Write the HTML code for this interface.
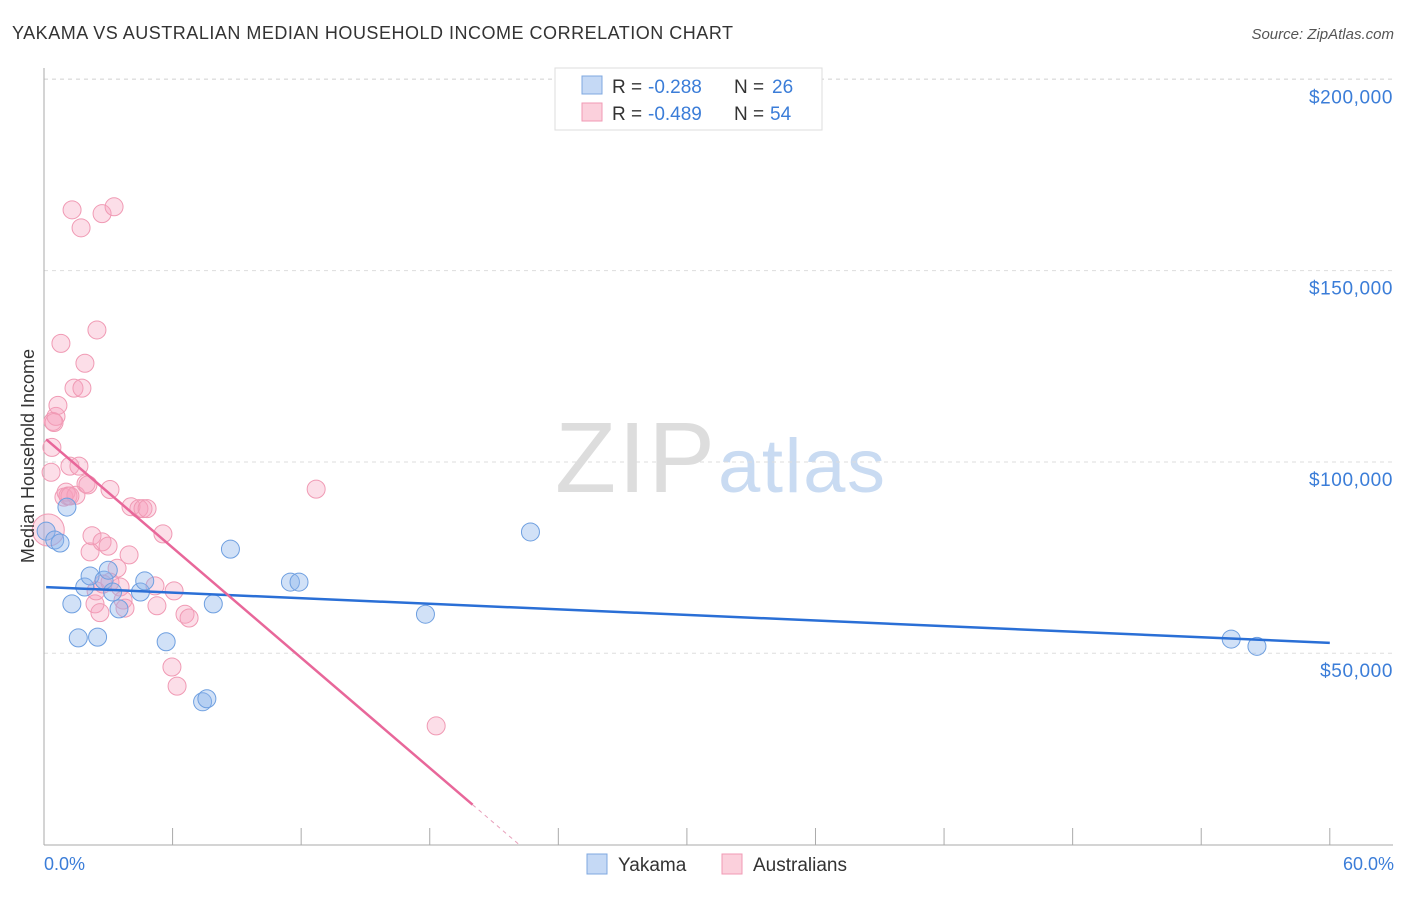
<!DOCTYPE html>
<html><head><meta charset="utf-8"><style>
body{margin:0;background:#fff;font-family:"Liberation Sans",sans-serif}
svg text{font-family:"Liberation Sans",sans-serif}
</style></head><body>
<svg id="chart" width="1406" height="892" xmlns="http://www.w3.org/2000/svg">
<text x="12" y="39" font-size="18" fill="#333" textLength="721">YAKAMA VS AUSTRALIAN MEDIAN HOUSEHOLD INCOME CORRELATION CHART</text>
<text x="1394" y="39" font-size="15" fill="#555" font-style="italic" text-anchor="end">Source: ZipAtlas.com</text>
<text x="555" y="492" font-size="100" fill="#ddd" textLength="160" font-family="Liberation Serif">ZIP</text>
<text x="718" y="492" font-size="76" fill="#c9dbf2" textLength="167">atlas</text>
<g id="grid"></g><g id="axes"></g><g id="pts"></g><g id="lines"></g>
<text transform="translate(34,456) rotate(-90)" font-size="18" fill="#333" text-anchor="middle">Median Household Income</text>
<text x="44" y="870" font-size="18" fill="#3b7dd8">0.0%</text>
<text x="1394" y="870" font-size="18" fill="#3b7dd8" text-anchor="end">60.0%</text>
<g>
<rect x="555" y="68" width="267" height="62" fill="#fff" stroke="#ddd"/>
<rect x="582" y="76" width="20" height="18" fill="#c5d9f5" stroke="#7fa8e0"/>
<rect x="582" y="103" width="20" height="18" fill="#fbd0dc" stroke="#f09ab4"/>
<text y="93" font-size="19" fill="#333"><tspan x="612">R =</tspan><tspan x="648" fill="#3b7dd8">-0.288</tspan><tspan x="734">N =</tspan><tspan x="772" fill="#3b7dd8">26</tspan></text>
<text y="120" font-size="19" fill="#333"><tspan x="612">R =</tspan><tspan x="648" fill="#3b7dd8">-0.489</tspan><tspan x="734">N =</tspan><tspan x="770" fill="#3b7dd8">54</tspan></text>
</g>
<g>
<rect x="587" y="854" width="20" height="20" fill="#c5d9f5" stroke="#7fa8e0"/>
<text x="618" y="871" font-size="19" fill="#333">Yakama</text>
<rect x="722" y="854" width="20" height="20" fill="#fbd0dc" stroke="#f09ab4"/>
<text x="753" y="871" font-size="19" fill="#333">Australians</text>
</g>
</svg>
<script>
const yTicks=[50000,100000,150000,200000];
const yTickLabels=["$50,000","$100,000","$150,000","$200,000"];
const blueX=[0.1,0.5,0.75,1.07,1.3,1.6,1.9,2.15,2.5,2.8,3.0,3.2,3.5,4.5,4.7,5.7,7.4,7.6,7.9,8.7,11.5,11.9,17.8,22.7,55.4,56.6];
const blueY=[81.9,79.6,78.8,88.2,62.9,54.0,67.3,70.2,54.2,69.1,71.7,66.0,61.6,66.0,68.9,53.0,37.3,38.1,62.9,77.2,68.6,68.6,60.2,81.7,53.7,51.8];
const pinkX=[0.2,0.33,0.37,0.42,0.56,0.65,0.79,0.93,1.03,1.12,1.21,1.31,1.4,1.49,1.63,1.73,1.77,1.91,1.96,2.05,2.15,2.24,2.38,2.43,2.61,2.71,2.71,2.75,2.99,3.08,3.27,3.41,3.55,3.69,3.78,3.97,4.06,4.43,4.62,4.81,5.18,5.27,5.55,6.07,6.58,6.77,5.97,6.21,12.7,18.3,2.47,0.47,1.21,3.08];
const pinkY=[82.2,97.3,103.8,110.6,111.9,114.8,131.0,90.8,92.1,91.1,98.9,165.9,119.3,91.3,98.9,161.2,119.3,125.8,94.3,94.0,76.5,80.7,62.9,66.3,60.6,164.9,79.1,68.1,78.0,92.8,166.7,72.2,67.3,63.9,61.8,75.7,88.3,87.8,87.8,87.8,67.6,62.4,81.2,66.3,60.2,59.2,46.4,41.4,92.9,31.0,134.5,110.3,91.1,68.6];
const blueLine=[67.3,-0.243];
const pinkLine=[106.4,-4.8];
const X=v=>44+v*21.43, Y=v=>844.5-v/261.4;
const NS="http://www.w3.org/2000/svg";
function mk(p,t,a){const e=document.createElementNS(NS,t);for(const k in a)e.setAttribute(k,a[k]);p.appendChild(e);return e;}
const grid=document.getElementById('grid'),axes=document.getElementById('axes');
yTicks.forEach((t,i)=>{
 const g=mk(grid,'line',{x1:44,x2:1393,y1:Y(t),y2:Y(t),stroke:'#ddd','stroke-dasharray':'4,4'});
 
 
 const l=mk(grid,'text',{x:1393,y:Y(t)+24,'font-size':19,'letter-spacing':'0.6',fill:'#3b7dd8','text-anchor':'end'});l.textContent=yTickLabels[i];
 
 
});
mk(grid,'line',{x1:44,x2:1393,y1:79,y2:79,stroke:'#ddd','stroke-dasharray':'4,4'});
const ax=mk(axes,'line',{x1:44,x2:44,y1:68,y2:845,stroke:'#aaa'});


const bx=mk(axes,'line',{x1:44,x2:1393,y1:845,y2:845,stroke:'#aaa'});


for(let i=0;i<=10;i++){const t=mk(axes,'line',{x1:X(i*6),x2:X(i*6),y1:828,y2:845,stroke:'#aaa'});
 
 }
const pts=document.getElementById('pts');
pinkX.forEach((x,i)=>{const c=mk(pts,'circle',{cx:X(x),cy:Y(pinkY[i]*1000),r:i==0?16:9,fill:'rgba(246,160,188,0.35)',stroke:'#f09ab4','stroke-width':1});
 
 });
blueX.forEach((x,i)=>{const c=mk(pts,'circle',{cx:X(x),cy:Y(blueY[i]*1000),r:9,fill:'rgba(140,180,235,0.4)',stroke:'#6e9fe0','stroke-width':1});
 
 });
const lines=document.getElementById('lines');
const bl=mk(lines,'line',{x1:X(0.1),y1:Y((blueLine[0]+blueLine[1]*0.1)*1000),x2:X(60),y2:Y((blueLine[0]+blueLine[1]*60)*1000),stroke:'#2a6fd6','stroke-width':2.5});


const xe=20.0, xz=-pinkLine[0]/pinkLine[1];
const pl=mk(lines,'line',{x1:X(0.1),y1:Y((pinkLine[0]+pinkLine[1]*0.1)*1000),x2:X(xe),y2:Y((pinkLine[0]+pinkLine[1]*xe)*1000),stroke:'#e8679a','stroke-width':2.5});


const pd=mk(lines,'line',{x1:X(xe),y1:Y((pinkLine[0]+pinkLine[1]*xe)*1000),x2:X(xz),y2:Y(0),stroke:'#e8a0bb','stroke-width':1,'stroke-dasharray':'4,4'});


</script>
</body></html>
